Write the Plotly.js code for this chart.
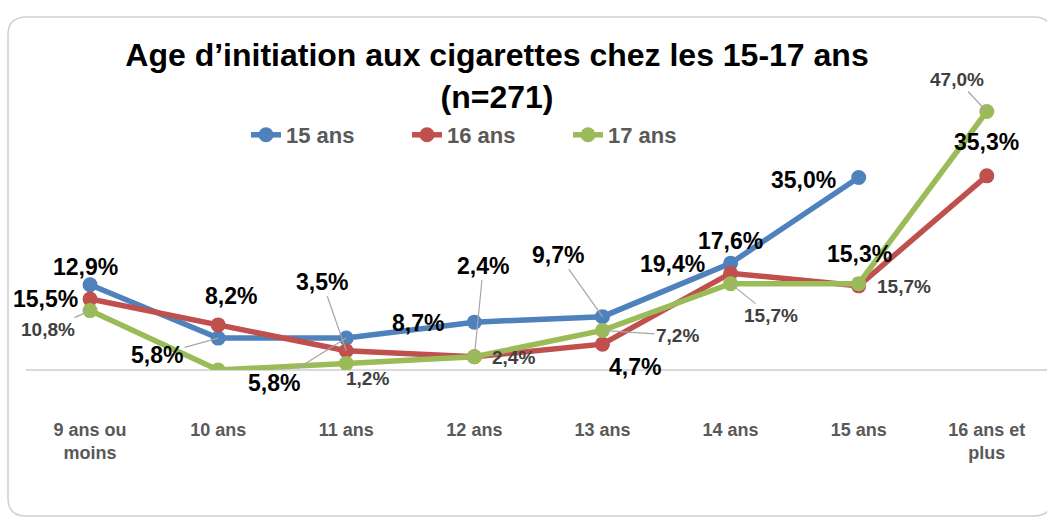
<!DOCTYPE html>
<html>
<head>
<meta charset="utf-8">
<script src="https://cdn.plot.ly/plotly-3.0.1.min.js"></script>
<style>
html,body{margin:0;padding:0;background:#fff;}
#chart{width:1047px;height:524px;}
</style>
</head>
<body>
<div id="chart"></div>
<script>
// ---- data ----
const categories = ["9 ans ou<br>moins", "10 ans", "11 ans", "12 ans", "13 ans", "14 ans", "15 ans", "16 ans et<br>plus"];
const seriesNames = ["15 ans", "16 ans", "17 ans"];
const s15 = [15.5, 5.8, 5.8, 8.7, 9.7, 19.4, 35.0, null];
const s16 = [12.9, 8.2, 3.5, 2.4, 4.7, 17.6, 15.3, 35.3];
const s17 = [10.8, 0.0, 1.2, 2.4, 7.2, 15.7, 15.7, 47.0];
const showLabel17 = [true, false, true, true, true, true, true, true];

// ---- label placement (pixel offsets of label centre from its point) ----
const off15 = [[-45,14],[-61,17],[-72,45],[-56,1],[-44,-62],[-58,1],[-55,2],null];
const lead15 = [false,true,true,false,true,false,false,false];
const off16 = [[-5,-32],[13,-29],[-24,-69],[9,-91],[33,23],[0,-32],[1,-32],[0,-34]];
const lead16 = [false,false,true,true,false,false,false,false];
const off17 = [[-42,19],null,[21,15],[39,1],[75,5],[40,32],[45,3],[-30,-32]];
const lead17 = [true,false,false,false,true,true,false,true];

const colors = ["#4f81bd", "#c0504d", "#9bbb59"];
const FONT = "Liberation Sans, Arial, sans-serif";

const xs = categories.map((c, i) => i);
const fmt = v => v.toFixed(1).replace('.', ',') + '%';

function trace(name, ys, color) {
  return {
    type: 'scatter', mode: 'lines+markers', name: name,
    x: xs, y: ys,
    line: {color: color, width: 5.5},
    marker: {color: color, size: 15},
    hoverinfo: 'skip'
  };
}

const traces = [
  trace(seriesNames[0], s15, colors[0]),
  trace(seriesNames[1], s16, colors[1]),
  trace(seriesNames[2], s17, colors[2])
];

const annotations = [];
function addLabels(ys, offs, leads, bold, show) {
  ys.forEach((v, i) => {
    if (v === null || !offs[i] || (show && !show[i])) return;
    const [dx, dy] = offs[i];
    const font = bold
      ? {family: FONT, size: 23, color: '#000000', weight: 'bold'}
      : {family: FONT, size: 19, color: '#404040', weight: 'bold'};
    const a = {x: i, y: v, xref: 'x', yref: 'y', text: fmt(v), font: font};
    if (leads[i]) {
      Object.assign(a, {showarrow: true, ax: dx, ay: dy, arrowhead: 0, arrowwidth: 1.2,
        arrowcolor: '#a6a6a6', standoff: 0, startstandoff: 0});
    } else {
      Object.assign(a, {showarrow: false, xshift: dx, yshift: -dy});
    }
    annotations.push(a);
  });
}
addLabels(s15, off15, lead15, true, null);
addLabels(s16, off16, lead16, true, null);
addLabels(s17, off17, lead17, false, showLabel17);

// plot area: x 26..1047, y 95..370
const L = 26, R = 1047, T = 95, B = 370;
const px = X => (X - L) / (R - L);
const py = Y => (B - Y) / (B - T);
const bx0 = px(8), bx1 = px(1052), by0 = py(17), by1 = py(516);
const rx = 18 / (R - L), ry = 18 / (B - T);
const borderPath = `M ${bx0+rx} ${by0} L ${bx1-rx} ${by0} Q ${bx1} ${by0} ${bx1} ${by0-ry} L ${bx1} ${by1+ry} Q ${bx1} ${by1} ${bx1-rx} ${by1} L ${bx0+rx} ${by1} Q ${bx0} ${by1} ${bx0} ${by1+ry} L ${bx0} ${by0-ry} Q ${bx0} ${by0} ${bx0+rx} ${by0} Z`;

const layout = {
  width: 1047, height: 524,
  margin: {l: L, r: 1047 - R, t: T, b: 524 - B, pad: 0},
  paper_bgcolor: '#ffffff', plot_bgcolor: '#ffffff',
  font: {family: FONT},
  title: {
    text: 'Age d\u2019initiation aux cigarettes chez les 15-17 ans<br>(n=271)',
    font: {family: FONT, size: 32, color: '#000000', weight: 'bold'},
    xref: 'container', yref: 'container', x: 497 / 1047, xanchor: 'center',
    y: 1 - 66 / 524, yanchor: 'middle'
  },
  showlegend: true,
  legend: {
    orientation: 'h', x: px(246), xanchor: 'left', y: py(135), yanchor: 'middle',
    entrywidth: 116, entrywidthmode: 'pixels',
    font: {family: FONT, size: 22, color: '#595959', weight: 'bold'},
    bgcolor: 'rgba(0,0,0,0)'
  },
  xaxis: {
    range: [-0.5, 7.47], tickmode: 'array', tickvals: xs, ticktext: categories,
    showgrid: false, zeroline: false, showline: false, ticks: '',
    ticklabelstandoff: 47,
    tickfont: {family: FONT, size: 18, color: '#595959', weight: 'bold'},
    fixedrange: true
  },
  yaxis: {
    range: [0, 50], showgrid: false, showticklabels: false, ticks: '',
    zeroline: true, zerolinecolor: '#d9d9d9', zerolinewidth: 1.5, showline: false,
    fixedrange: true
  },
  shapes: [{type: 'path', xref: 'paper', yref: 'paper', path: borderPath,
    line: {color: '#d0d0d0', width: 1.5}, fillcolor: 'rgba(0,0,0,0)', layer: 'below'}],
  annotations: annotations
};

Plotly.newPlot('chart', traces, layout, {staticPlot: true, displayModeBar: false});
</script>
</body>
</html>
